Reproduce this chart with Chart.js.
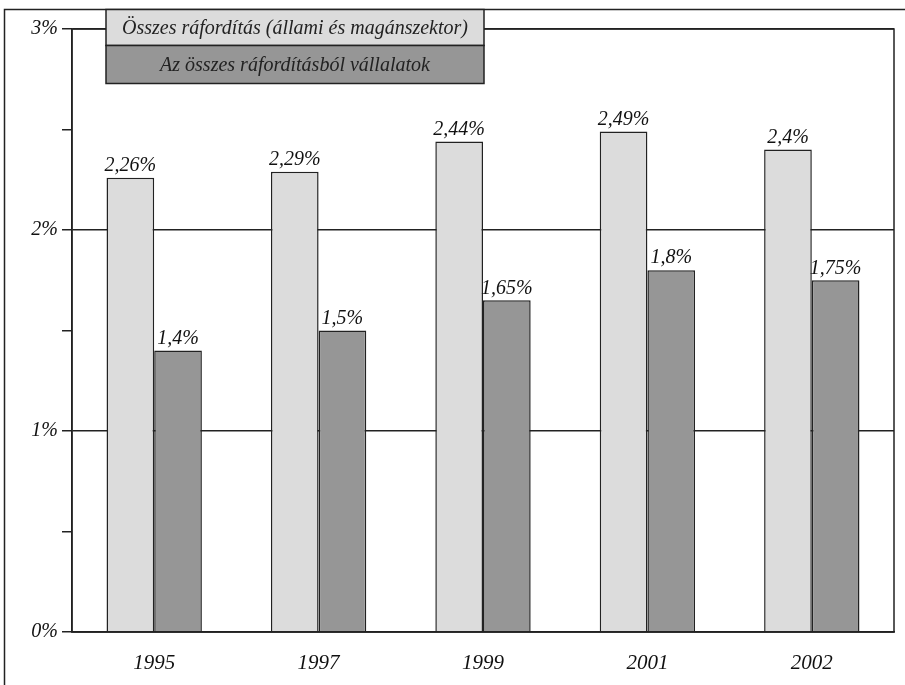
<!DOCTYPE html>
<html>
<head>
<meta charset="utf-8">
<script src="https://cdn.jsdelivr.net/npm/chart.js@4.4.0/dist/chart.umd.min.js"></script>
<style>
  html, body { margin: 0; padding: 0; background: #fff; }
  #wrap { width: 905px; height: 685px; }
</style>
</head>
<body>
<div id="wrap"><canvas id="c" width="905" height="685"></canvas></div>
<script>
const years = ['1995', '1997', '1999', '2001', '2002'];
const totalSpend = [2.26, 2.29, 2.44, 2.49, 2.4];
const companySpend = [1.4, 1.5, 1.65, 1.8, 1.75];
const seriesNames = ['Összes ráfordítás (állami és magánszektor)', 'Az összes ráfordításból vállalatok'];
const seriesColors = ['#dcdcdc', '#969696'];

const serif = '"Liberation Serif", "DejaVu Serif", serif';
const fmt = v => String(v).replace('.', ',') + '%';

// value labels above bars
const valueLabels = {
  id: 'valueLabels',
  afterDatasetsDraw(chart) {
    const ctx = chart.ctx;
    ctx.save();
    ctx.font = 'italic 20px ' + serif;
    ctx.fillStyle = '#111';
    ctx.textAlign = 'center';
    ctx.textBaseline = 'bottom';
    chart.data.datasets.forEach((ds, i) => {
      chart.getDatasetMeta(i).data.forEach((bar, j) => {
        ctx.fillText(fmt(ds.data[j]), bar.x, bar.y - 2);
      });
    });
    ctx.restore();
  }
};

// frame, plot border and the boxed legend
const frame = {
  id: 'frame',
  afterDraw(chart) {
    const ctx = chart.ctx;
    const a = chart.chartArea;
    ctx.save();
    ctx.strokeStyle = '#222';
    ctx.lineWidth = 1.5;
    ctx.beginPath();
    ctx.moveTo(4.5, 685);
    ctx.lineTo(4.5, 9.5);
    ctx.lineTo(905, 9.5);
    ctx.stroke();
    ctx.strokeRect(a.left, a.top, a.right - a.left, a.bottom - a.top);

    // legend boxes
    const lx = 106, lw = 378, rowH = [36, 38];
    let y = 9.5;
    ctx.font = 'italic 20px ' + serif;
    ctx.textAlign = 'center';
    ctx.textBaseline = 'middle';
    seriesNames.forEach((name, i) => {
      ctx.fillStyle = seriesColors[i];
      ctx.fillRect(lx, y, lw, rowH[i]);
      ctx.strokeRect(lx, y, lw, rowH[i]);
      ctx.fillStyle = '#222';
      ctx.fillText(name, lx + lw / 2, y + rowH[i] / 2 + 1);
      y += rowH[i];
    });
    ctx.restore();
  }
};

new Chart(document.getElementById('c'), {
  type: 'bar',
  data: {
    labels: years,
    datasets: [
      { label: seriesNames[0], data: totalSpend, backgroundColor: seriesColors[0], borderColor: '#222', borderWidth: 1.5 },
      { label: seriesNames[1], data: companySpend, backgroundColor: seriesColors[1], borderColor: '#222', borderWidth: 1.5 }
    ]
  },
  options: {
    responsive: false,
    animation: false,
    layout: { padding: { top: 29, right: 11, bottom: 0, left: 0 } },
    plugins: { legend: { display: false }, tooltip: { enabled: false } },
    datasets: { bar: { categoryPercentage: 0.58, barPercentage: 1.0 } },
    scales: {
      x: {
        afterFit: s => { s.height = 53; },
        grid: { display: false },
        border: { display: true, color: '#222', width: 1.5 },
        ticks: { color: '#111', font: { family: serif, style: 'italic', size: 21 }, padding: 11 }
      },
      y: {
        min: 0,
        max: 3,
        afterFit: s => { s.width = 72; },
        ticks: {
          stepSize: 0.5,
          color: '#111',
          padding: 4,
          font: { family: serif, style: 'italic', size: 20 },
          callback: v => Number.isInteger(v) ? v + '%' : ''
        },
        grid: {
          color: c => Number.isInteger(c.tick.value) ? '#222' : 'rgba(0,0,0,0)',
          tickColor: '#222',
          tickLength: 10,
          lineWidth: 1.5
        },
        border: { display: true, color: '#222', width: 1.5 }
      }
    }
  },
  plugins: [valueLabels, frame]
});
</script>
</body>
</html>
